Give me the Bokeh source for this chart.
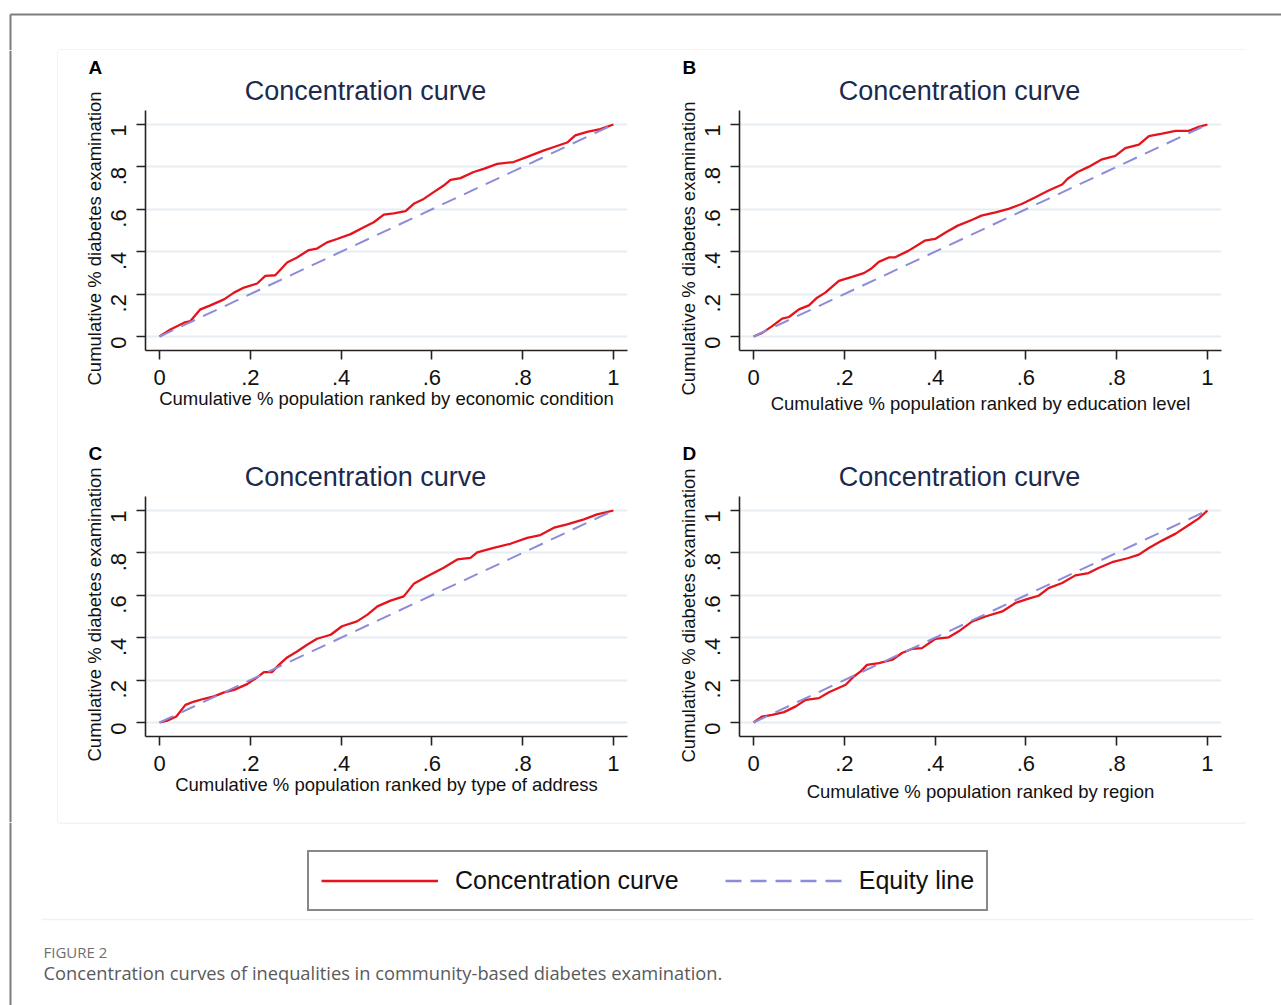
import math
from bokeh.plotting import figure
from bokeh.models import Range1d, FixedTicker, Legend, LegendItem, Title
from bokeh.core.properties import value
from bokeh.layouts import column, row
from bokeh.embed import file_html
from bokeh.resources import INLINE

# ---------------- data ----------------
a_x = [0, .024, .054, .068, .09, .112, .142, .164, .186, .215, .233, .255, .281, .303, .329, .347, .369, .391, .421, .45,
       .472, .494, .516, .542, .56, .582, .604, .626, .641, .663, .692, .714, .744, .78, .81, .847, .869, .898, .916, .942, .971, 1.0]
a_y = [0, .033, .065, .073, .128, .147, .175, .207, .231, .25, .286, .289, .349, .373, .408, .415, .444, .46, .483, .515,
       .539, .575, .581, .591, .626, .649, .681, .712, .739, .747, .776, .791, .814, .823, .847, .878, .894, .915, .949, .965, .978, 1.0]

b_x = [0, .019, .041, .063, .078, .1, .122, .14, .158, .188, .217, .243, .258, .276, .298, .311, .341, .377, .4, .423,
       .45, .482, .502, .533, .562, .592, .621, .65, .68, .692, .714, .738, .766, .797, .819, .849, .871, .9, .93, .959, .981, 1.0]
b_y = [0, .017, .049, .084, .092, .128, .147, .183, .207, .262, .281, .299, .318, .352, .373, .373, .404, .452, .46, .491,
       .523, .551, .57, .586, .602, .626, .657, .689, .717, .744, .776, .8, .834, .852, .889, .905, .945, .957, .97, .97, .989, 1.0]

c_x = [0, .017, .037, .057, .076, .098, .12, .142, .164, .193, .215, .23, .248, .263, .281, .303, .325, .347, .377, .402,
       .435, .458, .48, .509, .538, .56, .59, .626, .656, .685, .7, .736, .773, .81, .839, .869, .898, .935, .964, 1.0]
c_y = [0, .009, .028, .083, .099, .112, .123, .142, .154, .181, .213, .238, .238, .272, .307, .335, .367, .395, .414, .454,
       .477, .509, .548, .575, .595, .654, .69, .73, .769, .777, .803, .824, .843, .871, .884, .919, .935, .958, .982, 1.0]

d_x = [0, .019, .041, .067, .093, .115, .144, .166, .203, .221, .236, .25, .276, .306, .327, .35, .371, .4, .43, .452,
       .482, .511, .548, .577, .606, .628, .65, .68, .709, .738, .76, .79, .826, .849, .871, .9, .93, .959, .981, 1.0]
d_y = [0, .028, .036, .049, .076, .107, .115, .143, .178, .217, .241, .272, .28, .296, .328, .348, .351, .394, .402, .43,
       .477, .5, .524, .564, .584, .598, .634, .658, .694, .705, .729, .756, .776, .792, .823, .858, .891, .932, .963, 1.0]

equity_x = [0, 1]
equity_y = [0, 1]

tick_vals = [0, 0.2, 0.4, 0.6, 0.8, 1]
tick_labels = ["0", ".2", ".4", ".6", ".8", "1"]

panel_letters = ["A", "B", "C", "D"]
x_titles = ["Cumulative % population ranked by economic condition",
            "Cumulative % population ranked by education level",
            "Cumulative % population ranked by type of address",
            "Cumulative % population ranked by region"]
y_title = "Cumulative % diabetes examination"
panel_title = "Concentration curve"
legend_labels = ["Concentration curve", "Equity line"]
caption_head = "FIGURE 2"
caption_text = "Concentration curves of inequalities in community-based diabetes examination."

# ---------------- styles / geometry ----------------
RED = "#e5131c"
LAV = "#8d8cd8"
FONT = "Liberation Sans"
FRAME = "#7d7d7d"
FAINT = "#eaf0f3"
PANEL_W, PANEL_H = 594, 386
Y_LO, Y_HI_AXIS, Y_HI_FRAME = -0.066, 1.066, 1.217
X_LO, X_HI = -0.031, 1.031


def strip(w, h, x0, x1, y0, y1):
    s = figure(width=w, height=h, output_backend="svg", toolbar_location=None,
               x_range=Range1d(x0, x1), y_range=Range1d(y1, y0), min_border=0,
               x_axis_type=None, y_axis_type=None)
    s.outline_line_color = None
    s.background_fill_color = "white"
    s.border_fill_color = "white"
    return s


def panel(letter, xs, ys, xlabel, xlab_standoff, ylab_offset):
    p = figure(width=PANEL_W, height=PANEL_H, output_backend="svg", toolbar_location=None,
               x_range=Range1d(X_LO, X_HI), y_range=Range1d(Y_LO, Y_HI_FRAME),
               min_border_left=87, min_border_right=25, min_border_top=28, min_border_bottom=86)
    p.outline_line_color = None
    p.background_fill_color = "white"
    p.border_fill_color = "white"

    # panel letter as the plot title, placed left of the frame
    p.title.text = letter
    p.title.align = "left"
    p.title.offset = -57
    p.title.standoff = 2
    p.title.vertical_align = "bottom"
    p.title.text_font = FONT
    p.title.text_font_size = "19px"
    p.title.text_font_style = "bold"
    p.title.text_color = "#000000"

    p.xgrid.visible = False
    p.ygrid.grid_line_color = "#e6edf3"
    p.ygrid.grid_line_width = 2
    for ax in (p.xaxis[0], p.yaxis[0]):
        ax.ticker = FixedTicker(ticks=tick_vals)
        ax.major_label_overrides = dict(zip(tick_vals, tick_labels))
        ax.axis_line_color = "#222222"
        ax.axis_line_width = 1.6
        ax.major_tick_line_color = "#222222"
        ax.major_tick_line_width = 1.6
        ax.major_tick_out = 9
        ax.major_tick_in = 0
        ax.minor_tick_line_color = None
        ax.major_label_text_font = FONT
        ax.major_label_text_font_size = "22px"
        ax.major_label_text_color = "#111111"
        ax.axis_label_text_font = FONT
        ax.axis_label_text_font_size = "18.5px"
        ax.axis_label_text_font_style = "normal"
        ax.axis_label_text_color = "#111111"
    p.yaxis.bounds = (Y_LO, Y_HI_AXIS)
    p.yaxis.major_label_orientation = math.pi / 2
    p.yaxis.major_label_standoff = 18
    p.xaxis.major_label_standoff = 10
    p.xaxis.axis_label_standoff = xlab_standoff
    p.xaxis.axis_label = xlabel

    # y axis title, placed in the left border and started below the frame like the reference
    p.add_layout(Title(text=y_title, align="left", offset=ylab_offset, vertical_align="bottom",
                       standoff=-8, text_font=FONT, text_font_size="18.5px",
                       text_font_style="normal", text_color="#111111"), "left")

    p.line(xs, ys, line_color=RED, line_width=2.3)
    p.line(equity_x, equity_y, line_color=LAV, line_width=2, line_dash="15 9")

    # "Concentration curve" heading, inside the (extended) frame above the axes
    p.text(x=[0.4537], y=[1.160], text=[panel_title], text_align="center", text_baseline="middle",
           text_font=value(FONT), text_font_size="27px", text_color="#1b2a4e")
    return p


pA = panel(panel_letters[0], a_x, a_y, x_titles[0], 0, -35)
pB = panel(panel_letters[1], b_x, b_y, x_titles[1], 5, -45)
pC = panel(panel_letters[2], c_x, c_y, x_titles[2], 0, -25)
pD = panel(panel_letters[3], d_x, d_y, x_titles[3], 7, -26)

# top strip (page y 0..50)
top = strip(1281, 50, 0, 1281, 0, 50)
top.line([10, 1281], [14, 14], line_color=FRAME, line_width=2)
top.line([10, 10], [14, 50], line_color=FRAME, line_width=2)
top.line([58, 1245], [49.5, 49.5], line_color=FAINT, line_width=1.5)

# left strip (page x 0..58, y 50..822)
left = strip(58, 772, 0, 58, 50, 822)
left.line([10, 10], [50, 822], line_color=FRAME, line_width=2)
left.line([57.5, 57.5], [50, 822], line_color=FAINT, line_width=1.5)

# bottom area (page y 822..1005)
bottom = strip(1281, 183, 0, 1281, 822, 1005)
bottom.line([10, 10], [822, 1005], line_color=FRAME, line_width=2)
bottom.line([58, 1245], [822.5, 822.5], line_color=FAINT, line_width=1.5)
bottom.line([41, 1253], [919, 919], line_color="#f1f1f1", line_width=1.5)

nan = float("nan")
r_curve = bottom.line([nan], [nan], line_color=RED, line_width=2.5)
r_equity = bottom.line([nan], [nan], line_color=LAV, line_width=2.5, line_dash="16 9")
legend = Legend(items=[LegendItem(label=legend_labels[0], renderers=[r_curve]),
                       LegendItem(label=legend_labels[1], renderers=[r_equity])],
                orientation="horizontal", location=(307, 94),
                glyph_width=117, glyph_height=33, label_height=33, label_standoff=17,
                spacing=46, padding=12, margin=0,
                label_text_font=FONT, label_text_font_size="25px", label_text_color="#111111",
                border_line_color="#111111", border_line_width=2,
                background_fill_color="white", background_fill_alpha=1.0)
bottom.add_layout(legend)

bottom.text(x=[43], y=[951], text=[caption_head], text_align="left", text_baseline="middle",
            text_font=value("Open Sans"), text_font_size="15px", text_color="#707070")
bottom.text(x=[43], y=[972], text=[caption_text], text_align="left", text_baseline="middle",
            text_font=value("Open Sans"), text_font_size="18.3px", text_color="#5a5a5a")

layout = column(top, row(left, column(row(pA, pB), row(pC, pD))), bottom)

open("out.html", "w").write(file_html(layout, INLINE))
